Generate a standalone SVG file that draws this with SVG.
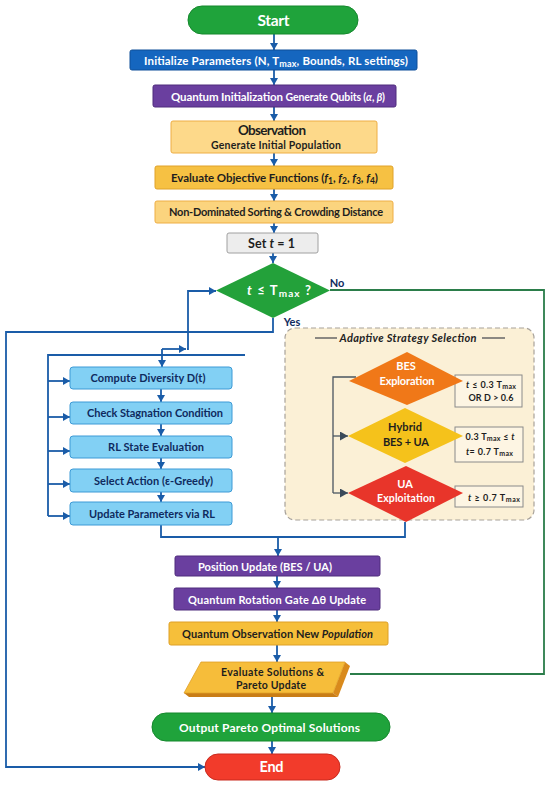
<svg xmlns="http://www.w3.org/2000/svg" width="550" height="786" viewBox="0 0 550 786">
<style>
.t{font-family:Lato,'Liberation Sans',sans-serif;font-weight:700;text-anchor:middle}
.w{fill:#fff}
.d{fill:#1e1e1e}
.n{fill:#0f2a5e}
.conn{fill:none;stroke:#1a5ca8;stroke-width:1.8}
.gconn{fill:none;stroke:#2b7d4a;stroke-width:1.8}
.aconn{fill:none;stroke:#4a5560;stroke-width:1.3}
.rl{fill:#82d0f4;stroke:#3d9ad6;stroke-width:1}
.pur{fill:#6a3f9f;stroke:#4f2c7d;stroke-width:1}
.cond{fill:#fdf5e3;stroke:#8a8a8a;stroke-width:1}
</style>
<defs>
<marker id="ab" markerUnits="userSpaceOnUse" markerWidth="8" markerHeight="8" refX="7" refY="4" orient="auto">
<path d="M0,0 L7,4 L0,8 z" fill="#1a5ca8"/>
</marker>
<marker id="ag" markerUnits="userSpaceOnUse" markerWidth="9" markerHeight="9" refX="8" refY="4.5" orient="auto">
<path d="M0,0 L8,4.5 L0,9 z" fill="#3a4a5a"/>
</marker>
</defs>

<g id="adaptive-box">
<rect x="285" y="328" width="249" height="192" rx="10" fill="#fbf0d6" stroke="#a8a29a" stroke-width="1.2" stroke-dasharray="5,3"/>
<line x1="315" y1="338" x2="337" y2="338" stroke="#666" stroke-width="1.5"/>
<line x1="482" y1="338" x2="505" y2="338" stroke="#666" stroke-width="1.5"/>
<text class="t" x="408" y="342" font-size="11" font-style="italic" fill="#222" textLength="137">Adaptive Strategy Selection</text>
</g>

<g id="connectors">
<path class="conn" d="M274,34 L274,50" marker-end="url(#ab)"/>
<path class="conn" d="M274,70 L274,85" marker-end="url(#ab)"/>
<path class="conn" d="M274,107 L274,121" marker-end="url(#ab)"/>
<path class="conn" d="M274,153 L274,166" marker-end="url(#ab)"/>
<path class="conn" d="M274,189 L274,201" marker-end="url(#ab)"/>
<path class="conn" d="M274,223 L274,233" marker-end="url(#ab)"/>
<path class="conn" d="M273,253 L273,263" marker-end="url(#ab)"/>
<path class="conn" d="M273,318 L273,332 L6,332 L6,767 L205,767" marker-end="url(#ab)"/>
<path class="conn" d="M48,516 L48,355 L245,355"/>
<path class="conn" d="M48,381 L70,381" marker-end="url(#ab)"/>
<path class="conn" d="M48,417 L70,417" marker-end="url(#ab)"/>
<path class="conn" d="M48,451 L70,451" marker-end="url(#ab)"/>
<path class="conn" d="M48,484 L70,484" marker-end="url(#ab)"/>
<path class="conn" d="M48,516 L70,516" marker-end="url(#ab)"/>
<path class="conn" d="M162,349 L186,349" marker-end="url(#ab)"/>
<path class="conn" d="M187,349 L188,349 L188,291 L216,291" marker-end="url(#ab)"/>
<path class="conn" d="M162,349 L162,367" marker-end="url(#ab)"/>
<path class="conn" d="M161,389 L161,402" marker-end="url(#ab)"/>
<path class="conn" d="M161,424 L161,436" marker-end="url(#ab)"/>
<path class="conn" d="M161,458 L161,469" marker-end="url(#ab)"/>
<path class="conn" d="M161,492 L161,502" marker-end="url(#ab)"/>
<path class="conn" d="M161,525 L161,537 L405,537 L405,522"/>
<path class="conn" d="M278,537 L278,556" marker-end="url(#ab)"/>
<path class="conn" d="M277,576 L277,588" marker-end="url(#ab)"/>
<path class="conn" d="M277,610 L277,622" marker-end="url(#ab)"/>
<path class="conn" d="M277,645 L277,662" marker-end="url(#ab)"/>
<path class="conn" d="M272,697 L272,713" marker-end="url(#ab)"/>
<path class="conn" d="M272,741 L272,754" marker-end="url(#ab)"/>
<path class="gconn" d="M330,290 L544,290 L544,674 L350,674"/>
<path class="aconn" d="M356,377 L333,377 L333,493"/>
<path class="aconn" d="M333,436 L348,436" marker-end="url(#ag)"/>
<path class="aconn" d="M333,493 L348,493" marker-end="url(#ag)"/>
</g>

<g id="start">
<rect x="188" y="6" width="170" height="28" rx="14" fill="#1fa33b" stroke="#15882d"/>
<text class="t w" x="273.5" y="26" font-size="15.5" textLength="32">Start</text>
</g>
<g id="init-params">
<rect x="130" y="50" width="287" height="20" rx="2" fill="#1566bf" stroke="#0e4f99"/>
<text class="t w" x="276" y="64.5" font-size="11.5" textLength="264">Initialize Parameters (N, T<tspan font-size="9" dy="2">max</tspan><tspan dy="-2">, Bounds, RL settings)</tspan></text>
</g>
<g id="quantum-init">
<rect class="pur" x="153" y="85" width="243" height="22" rx="2"/>
<text class="t w" x="278" y="100.5" font-size="11.5" textLength="214">Quantum Initialization <tspan font-size="10.5">Generate Qubits (<tspan font-style="italic">α</tspan>, <tspan font-style="italic">β</tspan>)</tspan></text>
</g>
<g id="observation">
<rect x="171" y="121" width="206" height="32" rx="2" fill="#fdd98a" stroke="#eeae45"/>
<text class="t d" x="272" y="135" font-size="13.5" textLength="68">Observation</text>
<text class="t d" x="276" y="148.5" font-size="10.5" textLength="130">Generate Initial Population</text>
</g>
<g id="evaluate-objectives">
<rect x="155" y="166" width="238" height="23" rx="2" fill="#f6c143" stroke="#e0a22a"/>
<text class="t d" x="274.5" y="182" font-size="11.5" textLength="207">Evaluate Objective Functions (<tspan font-style="italic">f</tspan><tspan font-size="8.5" dy="2">1</tspan><tspan dy="-2">, </tspan><tspan font-style="italic">f</tspan><tspan font-size="8.5" dy="2">2</tspan><tspan dy="-2">, </tspan><tspan font-style="italic">f</tspan><tspan font-size="8.5" dy="2">3</tspan><tspan dy="-2">, </tspan><tspan font-style="italic">f</tspan><tspan font-size="8.5" dy="2">4</tspan><tspan dy="-2">)</tspan></text>
</g>
<g id="non-dominated">
<rect x="155" y="201" width="238" height="22" rx="2" fill="#fbd47e" stroke="#eeae45"/>
<text class="t d" x="276" y="216" font-size="11" textLength="214">Non-Dominated Sorting &amp; Crowding Distance</text>
</g>
<g id="set-t">
<rect x="227" y="233" width="91" height="20" rx="2" fill="#ededed" stroke="#a0a0a0"/>
<text class="t d" x="271.5" y="247.5" font-size="12.5" textLength="47">Set <tspan font-style="italic">t</tspan> = 1</text>
</g>
<g id="decision-t">
<polygon points="273,263 330,290.5 273,318 216,290.5" fill="#23a13a"/>
<text class="t w" x="279" y="295" font-size="13" textLength="64"><tspan font-style="italic">t</tspan> ≤ T<tspan font-size="10" dy="1.5">max</tspan><tspan dy="-1.5"> ?</tspan></text>
<text class="t n" x="337" y="287" font-size="11">No</text>
<text class="t n" x="292" y="326" font-size="11">Yes</text>
</g>

<g id="compute-diversity">
<rect class="rl" x="70" y="367" width="162" height="22" rx="3"/>
<text class="t n" x="148" y="382" font-size="11" textLength="115">Compute Diversity D(t)</text>
</g>
<g id="check-stagnation">
<rect class="rl" x="70" y="402" width="162" height="22" rx="3"/>
<text class="t n" x="155" y="417" font-size="11" textLength="136">Check Stagnation Condition</text>
</g>
<g id="rl-state">
<rect class="rl" x="70" y="436" width="162" height="22" rx="3"/>
<text class="t n" x="156" y="451" font-size="11" textLength="96">RL State Evaluation</text>
</g>
<g id="select-action">
<rect class="rl" x="70" y="469" width="162" height="23" rx="3"/>
<text class="t n" x="153.5" y="484.5" font-size="11" textLength="119">Select Action (ε-Greedy)</text>
</g>
<g id="update-params">
<rect class="rl" x="70" y="502" width="162" height="23" rx="3"/>
<text class="t n" x="152" y="518" font-size="11" textLength="126">Update Parameters via RL</text>
</g>

<g id="bes">
<rect class="cond" x="455" y="375" width="67" height="32"/>
<polygon points="407,352 463,381 407,405 349,381" fill="#f07818"/>
<text class="t w" x="406" y="370" font-size="11">BES</text>
<text class="t w" x="407" y="385" font-size="11" textLength="55">Exploration</text>
<text class="t d" x="491" y="388" font-size="9" textLength="50"><tspan font-style="italic">t</tspan> ≤ 0.3 T<tspan font-size="7" dy="1">max</tspan></text>
<text class="t d" x="491" y="401" font-size="9" textLength="45">OR D &gt; 0.6</text>
</g>
<g id="hybrid">
<rect class="cond" x="455" y="427" width="68" height="35"/>
<polygon points="405,408 463,436 405,463 348,436" fill="#f5c21b"/>
<text class="t d" x="405" y="431" font-size="11" textLength="34">Hybrid</text>
<text class="t d" x="406" y="446" font-size="11" textLength="46">BES + UA</text>
<text class="t d" x="490" y="440" font-size="9" textLength="49">0.3 T<tspan font-size="7" dy="1">max</tspan><tspan dy="-1"> ≤ </tspan><tspan font-style="italic">t</tspan></text>
<text class="t d" x="489.5" y="455" font-size="9" textLength="47"><tspan font-style="italic">t</tspan>= 0.7 T<tspan font-size="7" dy="1">max</tspan></text>
</g>
<g id="ua">
<rect class="cond" x="455" y="486" width="68" height="21"/>
<polygon points="406,466 463,493 406,522 348,493" fill="#e8352a"/>
<text class="t w" x="405" y="487.5" font-size="11">UA</text>
<text class="t w" x="406" y="501.5" font-size="10.5" textLength="58">Exploitation</text>
<text class="t d" x="494" y="501" font-size="9" textLength="52"><tspan font-style="italic">t</tspan> ≥ 0.7 T<tspan font-size="7" dy="1">max</tspan></text>
</g>

<g id="position-update">
<rect class="pur" x="175" y="556" width="205" height="20" rx="2"/>
<text class="t w" x="265" y="570.5" font-size="11" textLength="134">Position Update (BES / UA)</text>
</g>
<g id="rotation-gate">
<rect class="pur" x="174" y="588" width="206" height="22" rx="2"/>
<text class="t w" x="277" y="603.5" font-size="11" textLength="178">Quantum Rotation Gate Δθ Update</text>
</g>
<g id="quantum-observation">
<rect x="169" y="622" width="219" height="23" rx="2" fill="#f6bf3a" stroke="#dea026"/>
<text class="t d" x="277.5" y="638" font-size="11" textLength="191">Quantum Observation New <tspan font-style="italic">Population</tspan></text>
</g>
<g id="evaluate-solutions">
<polygon points="345,662 350,666 338,697 333,693" fill="#d98a1c"/>
<polygon points="184,693 333,693 338,697 189,697" fill="#c97d16"/>
<polygon points="201,662 345,662 333,693 184,693" fill="#f6bd3a" stroke="#e0a026" stroke-width="0.8"/>
<text class="t d" x="272.5" y="676" font-size="10.5" textLength="103">Evaluate Solutions &amp;</text>
<text class="t d" x="271" y="689" font-size="10.5" textLength="70">Pareto Update</text>
</g>
<g id="output-pareto">
<rect x="152" y="713" width="238" height="28" rx="14" fill="#1fa33b" stroke="#15882d"/>
<text class="t w" x="269.5" y="731.5" font-size="12" textLength="181">Output Pareto Optimal Solutions</text>
</g>
<g id="end">
<rect x="205" y="754" width="135" height="26" rx="13" fill="#f23b2b" stroke="#c92a1e"/>
<text class="t w" x="271.5" y="772" font-size="14.5" textLength="24">End</text>
</g>
</svg>
